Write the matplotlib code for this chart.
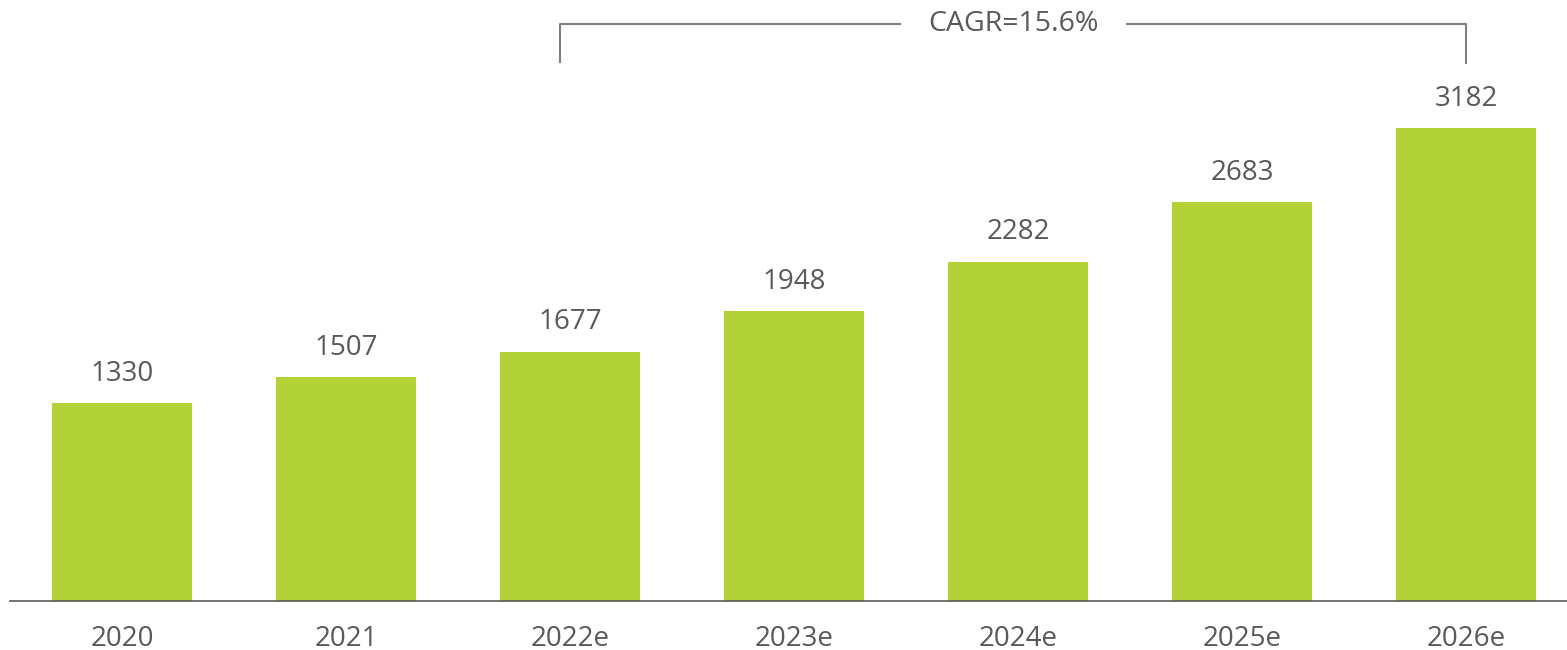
import matplotlib
matplotlib.use('Agg')
import matplotlib.pyplot as plt

plt.rcParams['font.family'] = ['Open Sans', 'DejaVu Sans']

years = ['2020', '2021', '2022e', '2023e', '2024e', '2025e', '2026e']
values = [1330, 1507, 1677, 1948, 2282, 2683, 3182]
cagr_text = 'CAGR=15.6%'
cagr_from, cagr_to = 2, 6

BAR_COLOR = '#B2D235'
TEXT_COLOR = '#595959'
LINE_COLOR = '#7F7F7F'

fig = plt.figure(figsize=(15.67, 6.5), dpi=100)
ax = fig.add_axes([10 / 1567, 49 / 650, 1557 / 1567, 601 / 650])

x = list(range(len(years)))
bars = ax.bar(x, values, width=0.625, color=BAR_COLOR)

for xi, v in zip(x, values):
    ax.annotate(str(v), (xi, v), xytext=(0, 16), textcoords='offset points',
                ha='center', va='baseline', fontsize=20, color=TEXT_COLOR)

ax.set_xlim(-0.5, 6.45)
ax.set_ylim(0, 4042)
ax.set_xticks(x)
ax.set_xticklabels(years, fontsize=20, color=TEXT_COLOR)
ax.tick_params(axis='x', length=0, pad=17)
ax.set_yticks([])
for side in ['left', 'right', 'top']:
    ax.spines[side].set_visible(False)
ax.spines['bottom'].set_color('#595959')
ax.spines['bottom'].set_linewidth(1.2)

# bracket with CAGR
top = 3880
lx = cagr_from - 0.045
rx = cagr_to
ax.plot([lx, lx, 3.473], [3625, top, top], color=LINE_COLOR, lw=1.5, clip_on=False)
ax.plot([4.487, rx, rx], [top, top, 3615], color=LINE_COLOR, lw=1.5, clip_on=False)
ax.text(3.98, top, cagr_text, ha='center', va='center', fontsize=20.5, color=TEXT_COLOR)

fig.savefig('out.png', dpi=100)
